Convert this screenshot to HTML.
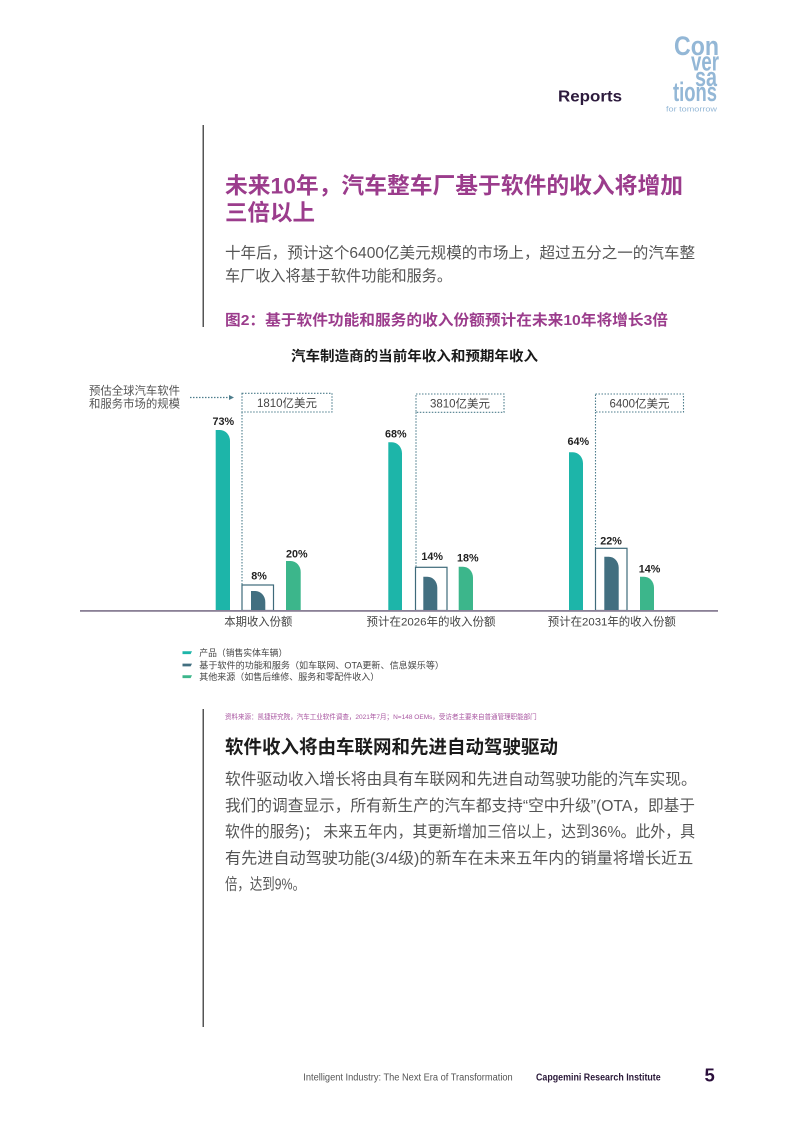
<!DOCTYPE html>
<html>
<head>
<meta charset="utf-8">
<style>
  html,body{margin:0;padding:0;background:#fff;}
  svg{display:block;}
  text{font-family:"Liberation Sans","Noto Sans CJK SC",sans-serif;}
</style>
</head>
<body>
<svg width="793" height="1122" viewBox="0 0 793 1122" xmlns="http://www.w3.org/2000/svg">
  <rect width="793" height="1122" fill="#fff"/>

  <!-- Header -->
  <text x="558" y="101.5" font-size="16" font-weight="bold" fill="#2d1b3d" textLength="64" lengthAdjust="spacingAndGlyphs">Reports</text>
  <g fill="#93b7d6" font-weight="bold" font-size="27" text-anchor="end">
    <text x="719" y="55" textLength="45" lengthAdjust="spacingAndGlyphs">Con</text>
    <text x="719" y="70.5" textLength="28" lengthAdjust="spacingAndGlyphs">ver</text>
    <text x="717" y="86" textLength="22" lengthAdjust="spacingAndGlyphs">sa</text>
    <text x="717" y="101" textLength="44" lengthAdjust="spacingAndGlyphs">tions</text>
  </g>
  <text x="717" y="111.5" font-size="7.5" fill="#93b7d6" text-anchor="end" textLength="51" lengthAdjust="spacingAndGlyphs">for tomorrow</text>

  <!-- left rules -->
  <rect x="202.5" y="125" width="1.5" height="202" fill="#555"/>
  <rect x="202.5" y="709" width="1.5" height="318" fill="#555"/>

  <!-- Heading -->
  <g fill="#9b3c8c" font-weight="bold" font-size="22.5">
    <text x="225" y="193.6" textLength="458" lengthAdjust="spacingAndGlyphs">未来10年，汽车整车厂基于软件的收入将增加</text>
    <text x="225" y="220.3" textLength="90" lengthAdjust="spacingAndGlyphs">三倍以上</text>
  </g>

  <!-- Body 1 -->
  <g fill="#555" font-size="15.6">
    <text x="225" y="257.8" textLength="470" lengthAdjust="spacingAndGlyphs">十年后，预计这个6400亿美元规模的市场上，超过五分之一的汽车整</text>
    <text x="225" y="281.2" textLength="227" lengthAdjust="spacingAndGlyphs">车厂收入将基于软件功能和服务。</text>
  </g>

  <!-- Figure title -->
  <text x="225" y="325" font-size="15" font-weight="bold" fill="#9b3c8c" textLength="443" lengthAdjust="spacingAndGlyphs">图2：基于软件功能和服务的收入份额预计在未来10年将增长3倍</text>

  <!-- Chart title -->
  <text x="291" y="361" font-size="14" font-weight="bold" fill="#1a1a1a" textLength="247" lengthAdjust="spacingAndGlyphs">汽车制造商的当前年收入和预期年收入</text>

  <!-- annotation -->
  <g fill="#555" font-size="11.4">
    <text x="89" y="394.3" textLength="91" lengthAdjust="spacingAndGlyphs">预估全球汽车软件</text>
    <text x="89" y="407.6" textLength="91" lengthAdjust="spacingAndGlyphs">和服务市场的规模</text>
  </g>
  <line x1="190" y1="397.5" x2="229" y2="397.5" stroke="#4d7d8c" stroke-width="1.3" stroke-dasharray="1.5 1.5"/>
  <polygon points="229,395 234,397.5 229,400" fill="#4d7d8c"/>

  <!-- dotted label boxes and connectors -->
  <g fill="none" stroke="#4d7d8c" stroke-width="1.1" stroke-dasharray="1.5 1.5">
    <rect x="242" y="393.3" width="90" height="18.7"/>
    <rect x="416" y="394" width="88" height="18.3"/>
    <rect x="595.5" y="394" width="88" height="18"/>
    <line x1="242" y1="412" x2="242" y2="585"/>
    <line x1="416" y1="412.3" x2="416" y2="567.3"/>
    <line x1="595.5" y1="412" x2="595.5" y2="548.3"/>
  </g>
  <g fill="#444" font-size="11.5" text-anchor="middle">
    <text x="287" y="407" textLength="60" lengthAdjust="spacingAndGlyphs">1810亿美元</text>
    <text x="460" y="407.5" textLength="60" lengthAdjust="spacingAndGlyphs">3810亿美元</text>
    <text x="639.5" y="407.3" textLength="60" lengthAdjust="spacingAndGlyphs">6400亿美元</text>
  </g>

  <!-- solid boxes around software bars -->
  <g fill="none" stroke="#3e6a7a" stroke-width="1.2">
    <rect x="242" y="585" width="31.5" height="25.5"/>
    <rect x="415.5" y="567.3" width="31.5" height="43.2"/>
    <rect x="595.5" y="548.3" width="31.5" height="62.2"/>
  </g>

  <!-- bars -->
  <g>
    <!-- group 1 -->
    <path d="M215.7 610.5 V430 H220 A10 11 0 0 1 230 441 V610.5 Z" fill="#1db5a9"/>
    <path d="M251 610.5 V591 H255.3 A10 11 0 0 1 265.3 602 V610.5 Z" fill="#426f80"/>
    <path d="M286 610.5 V561 H290.7 A10 11 0 0 1 300.7 572 V610.5 Z" fill="#3cb68b"/>
    <!-- group 2 -->
    <path d="M388.3 610.5 V442.3 H392 A10 11 0 0 1 402 453.3 V610.5 Z" fill="#1db5a9"/>
    <path d="M423.3 610.5 V576.7 H427.3 A10 11 0 0 1 437.3 587.7 V610.5 Z" fill="#426f80"/>
    <path d="M458.7 610.5 V566.7 H463 A10 11 0 0 1 473 577.7 V610.5 Z" fill="#3cb68b"/>
    <!-- group 3 -->
    <path d="M569 610.5 V452.3 H573 A10 11 0 0 1 583 463.3 V610.5 Z" fill="#1db5a9"/>
    <path d="M604.3 610.5 V556.7 H608.7 A10 11 0 0 1 618.7 567.7 V610.5 Z" fill="#426f80"/>
    <path d="M640 610.5 V576.7 H644 A10 11 0 0 1 654 587.7 V610.5 Z" fill="#3cb68b"/>
  </g>

  <!-- baseline -->
  <rect x="80" y="610" width="638" height="1.8" fill="#8a8096"/>

  <!-- value labels -->
  <g fill="#222" font-size="10.8" font-weight="bold" text-anchor="middle">
    <text x="223.3" y="425">73%</text>
    <text x="259" y="579.3">8%</text>
    <text x="296.8" y="557.5">20%</text>
    <text x="395.8" y="437.5">68%</text>
    <text x="432.2" y="560">14%</text>
    <text x="467.8" y="561.7">18%</text>
    <text x="578.3" y="445">64%</text>
    <text x="611" y="544.3">22%</text>
    <text x="649.5" y="572.3">14%</text>
  </g>

  <!-- category labels -->
  <g fill="#444" font-size="11.4" text-anchor="middle">
    <text x="258.3" y="625.6" textLength="68" lengthAdjust="spacingAndGlyphs">本期收入份额</text>
    <text x="431" y="625.6" textLength="129" lengthAdjust="spacingAndGlyphs">预计在2026年的收入份额</text>
    <text x="611.8" y="625.6" textLength="128" lengthAdjust="spacingAndGlyphs">预计在2031年的收入份额</text>
  </g>

  <!-- legend -->
  <polygon points="182.5,651.3 192,651.3 190.6,654.1 182.5,654.1" fill="#1db5a9"/>
  <polygon points="182.5,663.6 192,663.6 190.6,666.4 182.5,666.4" fill="#426f80"/>
  <polygon points="182.5,675.3 192,675.3 190.6,678.1 182.5,678.1" fill="#3cb68b"/>
  <g fill="#444" font-size="9">
    <text x="199.3" y="656" textLength="88" lengthAdjust="spacingAndGlyphs">产品（销售实体车辆）</text>
    <text x="199.3" y="668.3" textLength="244.7" lengthAdjust="spacingAndGlyphs">基于软件的功能和服务（如车联网、OTA更新、信息娱乐等）</text>
    <text x="199.3" y="680" textLength="180" lengthAdjust="spacingAndGlyphs">其他来源（如售后维修、服务和零配件收入）</text>
  </g>

  <!-- source -->
  <text x="225" y="719" font-size="6.8" fill="#a855a0" textLength="311.7" lengthAdjust="spacingAndGlyphs">资料来源：凯捷研究院，汽车工业软件调查，2021年7月；N=148 OEMs，受访者主要来自普通管理职能部门</text>

  <!-- section 2 -->
  <text x="225" y="753.7" font-size="18.5" font-weight="bold" fill="#1c1c1c" textLength="333" lengthAdjust="spacingAndGlyphs">软件收入将由车联网和先进自动驾驶驱动</text>
  <g fill="#555" font-size="15.7">
    <text x="225" y="784.3" textLength="471.7" lengthAdjust="spacingAndGlyphs">软件驱动收入增长将由具有车联网和先进自动驾驶功能的汽车实现。</text>
    <text x="225" y="811" textLength="470" lengthAdjust="spacingAndGlyphs">我们的调查显示，所有新生产的汽车都支持“空中升级”(OTA，即基于</text>
    <text x="225" y="837" textLength="470" lengthAdjust="spacingAndGlyphs">软件的服务)；  未来五年内，其更新增加三倍以上，达到36%。此外，具</text>
    <text x="225" y="863.3" textLength="468.3" lengthAdjust="spacingAndGlyphs">有先进自动驾驶功能(3/4级)的新车在未来五年内的销量将增长近五</text>
    <text x="225" y="889.3" textLength="80" lengthAdjust="spacingAndGlyphs">倍，达到9%。</text>
  </g>

  <!-- footer -->
  <text x="303.3" y="1080.7" font-size="10" fill="#555" textLength="209.4" lengthAdjust="spacingAndGlyphs">Intelligent Industry: The Next Era of Transformation</text>
  <text x="536" y="1080.7" font-size="10.5" font-weight="bold" fill="#2b1a3a" textLength="124.7" lengthAdjust="spacingAndGlyphs">Capgemini Research Institute</text>
  <text x="704.5" y="1081.7" font-size="18.5" font-weight="bold" fill="#2b0f3c">5</text>
</svg>
</body>
</html>
